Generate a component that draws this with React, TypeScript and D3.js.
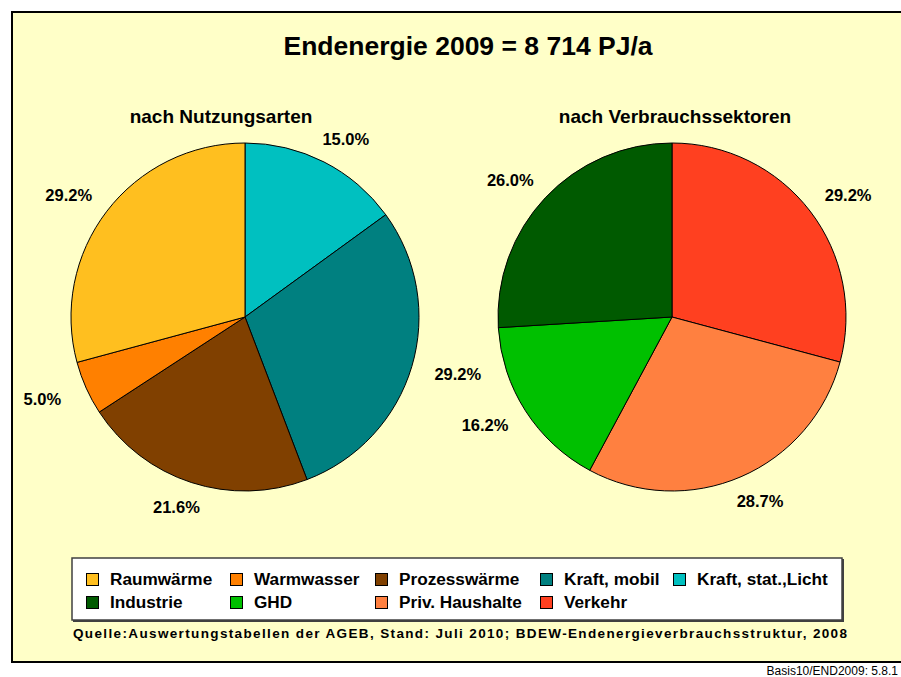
import React from "react";
import * as d3 from "d3";

const usageCategories = ["Kraft, stat.,Licht", "Kraft, mobil", "Prozesswärme", "Warmwasser", "Raumwärme"];
const usageValues = [15.0, 29.2, 21.6, 5.0, 29.2];
const usageColors = ["#00C0C0", "#008080", "#804000", "#FF8000", "#FFBF1F"];

const sectorCategories = ["Verkehr", "Priv. Haushalte", "GHD", "Industrie"];
const sectorValues = [29.2, 28.7, 16.2, 26.0];
const sectorColors = ["#FF4020", "#FF8040", "#00C000", "#005A00"];

const legendRow1 = ["Raumwärme", "Warmwasser", "Prozesswärme", "Kraft, mobil", "Kraft, stat.,Licht"];
const legendRow1Colors = ["#FFBF1F", "#FF8000", "#804000", "#008080", "#00C0C0"];
const legendRow2 = ["Industrie", "GHD", "Priv. Haushalte", "Verkehr"];
const legendRow2Colors = ["#005A00", "#00C000", "#FF8040", "#FF4020"];
const legendColumnsX = [86, 230, 375, 540, 673];

const title = "Endenergie 2009 = 8 714 PJ/a";
const subtitles = ["nach Nutzungsarten", "nach Verbrauchssektoren"];
const source = "Quelle:Auswertungstabellen der AGEB, Stand: Juli 2010; BDEW-Endenergieverbrauchsstruktur, 2008";
const footer = "Basis10/END2009: 5.8.1";

const FONT = "'Liberation Sans', Arial, Helvetica, sans-serif";

function Pie({ cx, cy, values, colors }: { cx: number; cy: number; values: number[]; colors: string[] }) {
  const r = 174;
  const pie = d3.pie<number>().sort(null).value((d) => d)(values);
  const arc = d3.arc<d3.PieArcDatum<number>>().innerRadius(0).outerRadius(r);
  const rx = 222;
  const ry = 200;
  return (
    <g transform={`translate(${cx},${cy})`}>
      {pie.map((p, i) => (
        <path key={i} d={arc(p) || ""} fill={colors[i]} stroke="#000" strokeWidth={1} strokeLinejoin="round" />
      ))}
      {pie.map((p, i) => {
        const a = (p.startAngle + p.endAngle) / 2;
        const x = rx * Math.sin(a);
        const y = -ry * Math.cos(a);
        return (
          <text key={"l" + i} x={x} y={y + 6} textAnchor="middle" fontFamily={FONT} fontWeight="bold" fontSize={16.5} fill="#000">
            {values[i].toFixed(1)}%
          </text>
        );
      })}
    </g>
  );
}

export default function App() {
  const W = 901;
  const H = 677;
  return (
    <div style={{ position: "absolute", left: 0, top: 0 }}>
      <svg width={W} height={H} style={{ display: "block" }}>
        <rect x={0} y={0} width={W} height={H} fill="#fff" />
        <rect x={12} y={12} width={W + 10} height={650} fill="#FFFFC8" stroke="#000" strokeWidth={2} />
        <text x={468} y={55} textAnchor="middle" fontFamily={FONT} fontWeight="bold" fontSize={26.5} fill="#000">
          {title}
        </text>
        <text x={221} y={123} textAnchor="middle" fontFamily={FONT} fontWeight="bold" fontSize={19} fill="#000">
          {subtitles[0]}
        </text>
        <text x={675} y={123} textAnchor="middle" fontFamily={FONT} fontWeight="bold" fontSize={19} fill="#000">
          {subtitles[1]}
        </text>
        <Pie cx={245} cy={317} values={usageValues} colors={usageColors} />
        <Pie cx={672} cy={317} values={sectorValues} colors={sectorColors} />

        <rect x={73} y={559} width={771} height={63} fill="#404040" />
        <rect x={72} y={558} width={770} height={62} fill="#fff" stroke="#404040" strokeWidth={1.5} />
        {legendRow1.map((t, i) => (
          <g key={"r1" + i}>
            <rect x={legendColumnsX[i] + 0.5} y={573.5} width={12} height={12} fill={legendRow1Colors[i]} stroke="#000" strokeWidth={1} />
            <text x={legendColumnsX[i] + 24} y={585} fontFamily={FONT} fontWeight="bold" fontSize={17.2} fill="#000">
              {t}
            </text>
          </g>
        ))}
        {legendRow2.map((t, i) => (
          <g key={"r2" + i}>
            <rect x={legendColumnsX[i] + 0.5} y={596.5} width={12} height={12} fill={legendRow2Colors[i]} stroke="#000" strokeWidth={1} />
            <text x={legendColumnsX[i] + 24} y={608} fontFamily={FONT} fontWeight="bold" fontSize={17.2} fill="#000">
              {t}
            </text>
          </g>
        ))}
        <text x={73} y={638} fontFamily={FONT} fontWeight="bold" fontSize={13.5} fill="#000" textLength={774} lengthAdjust="spacing">
          {source}
        </text>
        <text x={898} y={675} textAnchor="end" fontFamily={FONT} fontSize={12} fill="#000">
          {footer}
        </text>
      </svg>
    </div>
  );
}
